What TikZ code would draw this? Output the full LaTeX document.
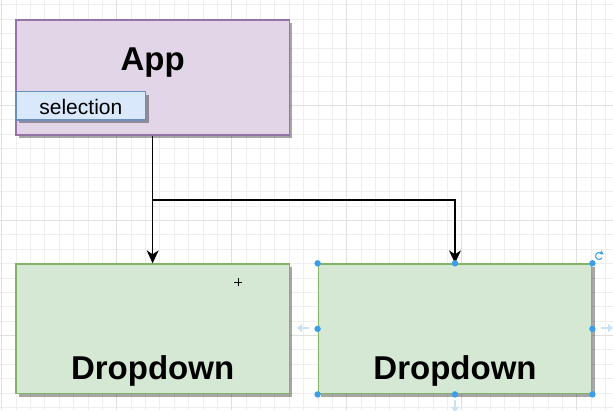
\documentclass[tikz,border=0pt]{standalone}
\usepackage{fontspec}
\setmainfont{Liberation Sans}
\usetikzlibrary{arrows.meta,shadows}
\definecolor{appfill}{HTML}{E1D5E7}
\definecolor{appdraw}{HTML}{9673A6}
\definecolor{selfill}{HTML}{DAE8FC}
\definecolor{seldraw}{HTML}{6C8EBF}
\definecolor{ddfill}{HTML}{D5E8D4}
\definecolor{dddraw}{HTML}{82B366}
\definecolor{gridminor}{HTML}{EFEFEF}
\definecolor{gridmajor}{HTML}{E0E0E0}
\definecolor{handle}{HTML}{3A9EE8}
\definecolor{hintc}{HTML}{CBE2F6}
\begin{document}
\begin{tikzpicture}[x=1pt,y=-1pt,
  boxshape/.style={draw, line width=1.4pt, inner sep=0pt, rectangle,
    drop shadow={shadow xshift=3pt,shadow yshift=-3pt,fill=black,opacity=0.35}},
  appbox/.style={boxshape, fill=appfill, draw=appdraw},
  selbox/.style={boxshape, fill=selfill, draw=seldraw},
  ddbox/.style={boxshape, fill=ddfill, draw=dddraw},
  bigtext/.style={font=\fontsize{33}{40}\selectfont\bfseries, inner sep=0pt, anchor=base},
  smalltext/.style={font=\fontsize{21}{25}\selectfont, inner sep=0pt, anchor=base},
  arr/.style={draw=black, line width=1.4pt, -{Stealth[length=13pt,width=12pt,inset=4pt]}},
  hdl/.style={fill=handle, draw=none},
  hintarrow/.style={draw=hintc, line width=2.5pt, -{Triangle[length=5pt,width=8pt]}}
]
\useasboundingbox (0,0) rectangle (613,410);
\fill[white] (0,0) rectangle (613,410);
% grid
\foreach \i in {0,...,42} {
  \pgfmathsetmacro\gx{1.7+\i*14.375}
  \draw[gridminor, line width=0.8pt] (\gx,0) -- (\gx,410);
}
\foreach \i in {0,...,28} {
  \pgfmathsetmacro\gy{4.875+\i*14.375}
  \draw[gridminor, line width=0.8pt] (0,\gy) -- (613,\gy);
}
\foreach \gx in {1.7,116.7,231.7,346.7,461.7,576.7}
  \draw[gridmajor, line width=1pt] (\gx,0) -- (\gx,410);
\foreach \gy in {105.5,220.5,335.5}
  \draw[gridmajor, line width=1pt] (0,\gy) -- (613,\gy);

% boxes
\node[appbox, minimum width=273.3pt, minimum height=115pt] (app) at (152.65,77.5) {};
\node[bigtext] (apptxt) at (152.65,70.7) {App};
\node[selbox, minimum width=129.7pt, minimum height=28.3pt] (sel) at (80.85,105.85) {};
\node[smalltext] (seltxt) at (80.85,114.5) {selection};

\node[ddbox, minimum width=273.3pt, minimum height=129.7pt] (ddl) at (152.65,328.85) {};
\node[bigtext] (ddltxt) at (152.65,379.3) {Dropdown};
\node[ddbox, minimum width=273.4pt, minimum height=129.7pt] (ddr) at (455,328.85) {};
\node[bigtext] (ddrtxt) at (455,379.3) {Dropdown};

% connectors
\coordinate (br) at (152.65,200);
\draw[arr] (app.south) -- (ddl.north);
\draw[arr] (br) -| (ddr.north);

% selection hints
\draw[hintarrow] (309,328) -- (297,328);
\draw[hintarrow] (601,328) -- (613,328);
\draw[hintarrow] (455,400) -- (455,412);
\foreach \a in {north west,north,north east,west,east,south west,south,south east}
  \fill[hdl] (ddr.\a) circle (3.2pt);
% rotate icon
\coordinate (rot) at (599,256);
\draw[handle, line width=1pt] ([shift={(60:3.5pt)}]rot) arc[start angle=60, end angle=330, radius=3.5pt];
\fill[handle] (601.5,250.5) -- (603.5,254.5) -- (599.5,254) -- cycle;
% move cursor
\coordinate (cur) at (238,282);
\draw[black, line width=0.8pt] ([xshift=-4pt]cur) -- ([xshift=4pt]cur);
\draw[black, line width=0.8pt] ([yshift=-4pt]cur) -- ([yshift=4pt]cur);
\end{tikzpicture}
\end{document}
